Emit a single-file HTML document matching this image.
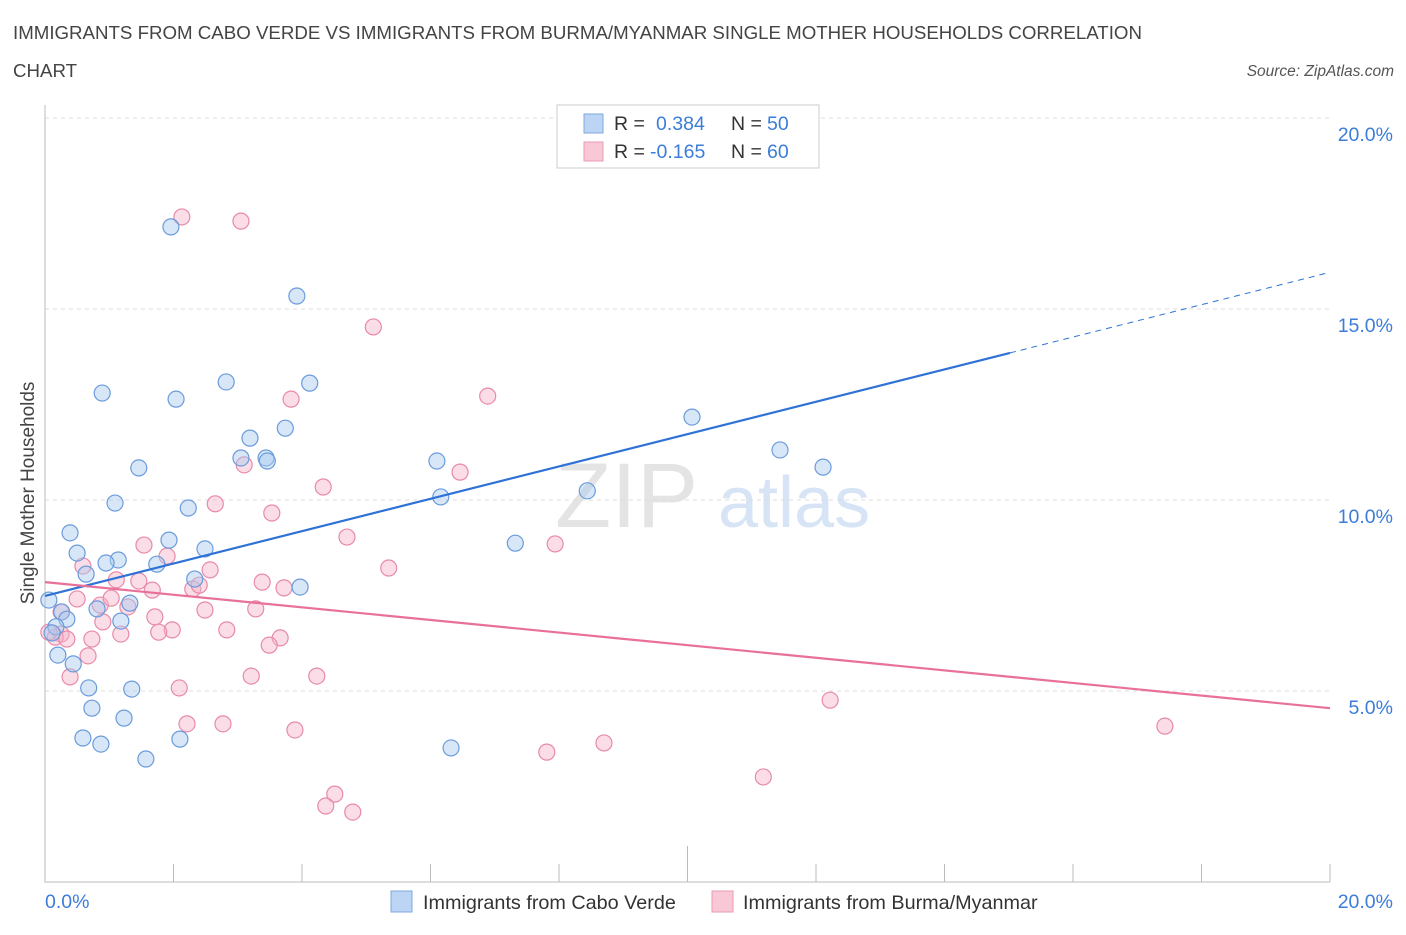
<!DOCTYPE html>
<html><head><meta charset="utf-8">
<style>
body{margin:0;background:#fff;font-family:"Liberation Sans",sans-serif;}
svg text{font-family:"Liberation Sans",sans-serif;}
</style></head>
<body>
<svg id="chart" width="1406" height="930" xmlns="http://www.w3.org/2000/svg">
<text x="13" y="39" font-size="18.7" fill="#444">IMMIGRANTS FROM CABO VERDE VS IMMIGRANTS FROM BURMA/MYANMAR SINGLE MOTHER HOUSEHOLDS CORRELATION</text>
<text x="13" y="77" font-size="18.7" fill="#444">CHART</text>
<text x="1394" y="76" font-size="15.5" fill="#555" font-style="italic" text-anchor="end">Source: ZipAtlas.com</text>
<text x="555" y="527" font-size="92" fill="#e4e4e4" font-family="Liberation Serif">ZIP</text>
<text x="718" y="527" font-size="72" fill="#d6e4f5">atlas</text>
<g id="grid"></g>
<g id="axes"></g>
<g id="marks"></g>
<text transform="translate(34,493) rotate(-90)" font-size="19" fill="#444" text-anchor="middle">Single Mother Households</text>
<g>
<rect x="557" y="105" width="262" height="63" fill="#fff" stroke="#ccc"/>
<rect x="584" y="114" width="19" height="19" fill="#bcd5f5" stroke="#7fa8e0"/>
<text x="614" y="130" font-size="19.5" fill="#333">R = </text><text x="656" y="130" font-size="19.5" fill="#3b7dd8">0.384</text>
<text x="731" y="130" font-size="19.5" fill="#333">N = </text><text x="767" y="130" font-size="19.5" fill="#3b7dd8">50</text>
<rect x="584" y="142" width="19" height="19" fill="#f9c8d6" stroke="#eb9ab4"/>
<text x="614" y="158" font-size="19.5" fill="#333">R = </text><text x="650" y="158" font-size="19.5" fill="#3b7dd8">-0.165</text>
<text x="731" y="158" font-size="19.5" fill="#333">N = </text><text x="767" y="158" font-size="19.5" fill="#3b7dd8">60</text>
</g>
<g>
<rect x="391" y="891" width="21" height="21" fill="#bcd5f5" stroke="#7fa8e0"/>
<text x="423" y="909" font-size="19.8" fill="#333">Immigrants from Cabo Verde</text>
<rect x="712" y="891" width="21" height="21" fill="#f9c8d6" stroke="#eb9ab4"/>
<text x="743" y="909" font-size="19.8" fill="#333">Immigrants from Burma/Myanmar</text>
</g>
</svg>
<script>
const blueX=[1.96,3.92,2.82,4.12,0.89,2.04,10.07,3.19,3.74,11.44,3.05,3.44,3.46,6.10,12.11,1.46,8.44,6.16,1.09,2.23,0.39,7.32,1.93,2.49,0.50,1.14,0.95,1.74,0.64,2.33,3.97,0.06,0.26,0.81,1.32,0.34,1.18,0.17,0.11,0.20,0.44,0.68,1.35,0.73,1.23,0.59,0.87,2.10,6.32,1.57];
const blueY=[17.15,15.34,13.09,13.06,12.80,12.64,12.17,11.62,11.88,11.31,11.10,11.10,11.02,11.02,10.86,10.84,10.24,10.08,9.92,9.79,9.14,8.87,8.95,8.72,8.61,8.43,8.35,8.32,8.06,7.93,7.72,7.38,7.07,7.15,7.30,6.88,6.83,6.68,6.52,5.94,5.71,5.08,5.05,4.55,4.29,3.77,3.61,3.74,3.51,3.22];
const pinkX=[2.13,3.05,5.11,6.89,3.83,6.46,3.10,4.33,2.65,3.53,4.70,1.54,7.94,1.90,0.59,2.57,5.35,1.11,1.46,3.38,3.72,1.67,2.30,2.40,0.50,0.86,1.29,2.49,3.28,1.03,0.25,0.90,1.71,1.98,2.83,1.77,0.25,0.16,0.34,0.73,1.18,3.66,3.49,0.67,0.39,3.21,4.23,2.09,12.22,2.21,2.77,3.89,17.43,7.81,8.70,11.18,4.51,4.37,4.79,0.06];
const pinkY=[17.41,17.30,14.53,12.72,12.64,10.73,10.92,10.34,9.90,9.66,9.03,8.82,8.85,8.53,8.27,8.17,8.22,7.91,7.88,7.85,7.70,7.64,7.67,7.77,7.41,7.25,7.20,7.12,7.15,7.43,7.07,6.81,6.94,6.60,6.60,6.54,6.49,6.41,6.36,6.36,6.49,6.39,6.20,5.92,5.37,5.39,5.39,5.08,4.76,4.14,4.14,3.98,4.08,3.40,3.64,2.75,2.30,1.99,1.83,6.54];
const blueTrend=[7.49,15.96];
const pinkTrend=[7.85,4.55];
const yTicks=[5,10,15,20];
const xTickLabels=["0.0%","20.0%"];
const NS="http://www.w3.org/2000/svg";
const X=v=>45+v/20*1285, Y=v=>882-v/20*764;
function mk(tag,attrs,parent){const e=document.createElementNS(NS,tag);for(const k in attrs)e.setAttribute(k,attrs[k]);parent.appendChild(e);return e;}
const grid=document.getElementById('grid'),axes=document.getElementById('axes'),marks=document.getElementById('marks');
yTicks.forEach(t=>{
 const l=mk('line',{x1:45,x2:1330,y1:Y(t),y2:Y(t),stroke:'#ddd','stroke-dasharray':'4,4'},grid);
 
 
 const tx=mk('text',{x:1393,y:Y(t)+23,'font-size':19.5,fill:'#3b7dd8','text-anchor':'end'},grid);
 tx.textContent=t.toFixed(1)+'%';
 
 
});
const ax=mk('path',{d:'M45,105V882H1330',stroke:'#bbb',fill:'none'},axes);


for(let i=0;i<=10;i++){
 const tk=mk('line',{x1:X(i*2),x2:X(i*2),y1:i==5?846:864,y2:882,stroke:'#bbb'},axes);
 
 
}
const xl0=mk('text',{x:45,y:908,'font-size':19.5,fill:'#3b7dd8'},axes);xl0.textContent=xTickLabels[0];


const xl1=mk('text',{x:1393,y:908,'font-size':19.5,fill:'#3b7dd8','text-anchor':'end'},axes);xl1.textContent=xTickLabels[1];


function dots(xs,ys,fill,stroke,name){xs.forEach((x,i)=>{
 const c=mk('circle',{cx:X(x),cy:Y(ys[i]),r:8,fill:fill,'fill-opacity':0.45,stroke:stroke,'stroke-width':1.2},marks);
 
 
});}
dots(pinkX,pinkY,'#f5b3c8','#e88aa8','point-burma');
dots(blueX,blueY,'#a9c9f0','#6a9bdc','point-cabo-verde');
const bs=blueTrend[0],bsl=(blueTrend[1]-blueTrend[0])/20;
const b1=mk('line',{x1:X(0),y1:Y(bs),x2:X(15.02),y2:Y(bs+bsl*15.02),stroke:'#2f72d6','stroke-width':2.2},marks);


const b2=mk('line',{x1:X(15.02),y1:Y(bs+bsl*15.02),x2:X(20),y2:Y(blueTrend[1]),stroke:'#2f72d6','stroke-width':1,'stroke-dasharray':'6,5'},marks);


const p1=mk('line',{x1:X(0),y1:Y(pinkTrend[0]),x2:X(20),y2:Y(pinkTrend[1]),stroke:'#e8709a','stroke-width':2.2},marks);


</script>
</body></html>
